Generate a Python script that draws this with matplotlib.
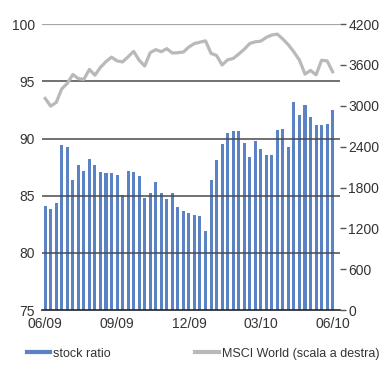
import matplotlib
matplotlib.use('Agg')
import matplotlib.pyplot as plt
from matplotlib.lines import Line2D
import numpy as np

plt.rcParams['font.family'] = ['Liberation Sans', 'DejaVu Sans']

# weekly stock ratio (left axis) and MSCI World (right axis), 06/09 - 06/10
stock_ratio = [
    84.1, 83.85, 84.4, 89.4, 89.25, 86.4, 87.7, 87.2, 88.2, 87.7,
    87.05, 86.95, 87.0, 86.85, 85.05, 87.2, 87.05, 86.75, 84.8, 85.2,
    86.2, 85.2, 84.7, 85.2, 84.0, 83.65, 83.5, 83.3, 83.25, 81.9,
    86.4, 88.1, 89.5, 90.5, 90.65, 90.65, 89.65, 88.4, 89.75, 89.05,
    88.55, 88.55, 90.75, 90.8, 89.3, 93.15, 92.1, 92.9, 91.9, 91.15,
    91.15, 91.25, 92.5,
]
msci_world = [
    3109, 2996, 3050, 3250, 3330, 3460, 3400, 3390, 3535, 3450,
    3565, 3650, 3715, 3660, 3645, 3720, 3800, 3670, 3585, 3780,
    3825, 3795, 3840, 3775, 3780, 3790, 3865, 3915, 3935, 3955,
    3770, 3740, 3600, 3675, 3695, 3760, 3830, 3915, 3940, 3950,
    4005, 4040, 4053, 3980, 3895, 3790, 3670, 3466, 3520, 3455,
    3670, 3660, 3500,
]
tick_pos = [0, 13, 26, 39, 52]
tick_labels = ['06/09', '09/09', '12/09', '03/10', '06/10']
left_ticks = [75, 80, 85, 90, 95, 100]
right_ticks = [0, 600, 1200, 1800, 2400, 3000, 3600, 4200]
labels = ['stock ratio', 'MSCI World (scala a destra)']

txt = '#333333'
blue = '#5b83c3'
grey = '#b9b9b9'

fig = plt.figure(figsize=(3.84, 3.71), dpi=100)
ax = fig.add_axes([0.109, 0.164, 0.776, 0.771])
x = np.arange(len(stock_ratio))

ax.bar(x, np.array(stock_ratio) - 75, bottom=75, width=0.55, color=blue,
       zorder=2)
for v in [80, 85, 90, 95]:
    ax.axhline(v, color='#4a4a4a', lw=1.1, zorder=3)
ax.axhline(100, color='#a6a6a6', lw=1.6, zorder=3)

ax.set_ylim(75, 100)
ax.set_xlim(-0.6, 53.3)
ax.set_yticks(left_ticks)
ax.set_xticks(tick_pos)
ax.set_xticklabels(tick_labels)
ax.tick_params(axis='both', length=0, labelsize=10, colors=txt, pad=5)
ax.tick_params(axis='y', pad=5)
for s in ['top', 'right', 'left']:
    ax.spines[s].set_visible(False)
ax.spines['bottom'].set_color('#222222')
ax.spines['bottom'].set_linewidth(1.2)

ax2 = ax.twinx()
ax2.plot(x, msci_world, color=grey, lw=2.3, zorder=4)
ax2.set_ylim(0, 4200)
ax2.set_yticks(right_ticks)
ax2.tick_params(axis='y', length=4, width=1, color='#555555', labelsize=10,
                labelcolor=txt, pad=2)
for s in ['top', 'right', 'left', 'bottom']:
    ax2.spines[s].set_visible(False)

handles = [Line2D([], [], color=blue, lw=3), Line2D([], [], color=grey, lw=3)]
fig.legend(handles, labels, loc='lower left', bbox_to_anchor=(0.04, 0.0),
           ncol=2, frameon=False, fontsize=9, handlelength=1.9,
           handletextpad=0.2, columnspacing=6.8, labelcolor=txt)

fig.savefig('out.png', dpi=100)
